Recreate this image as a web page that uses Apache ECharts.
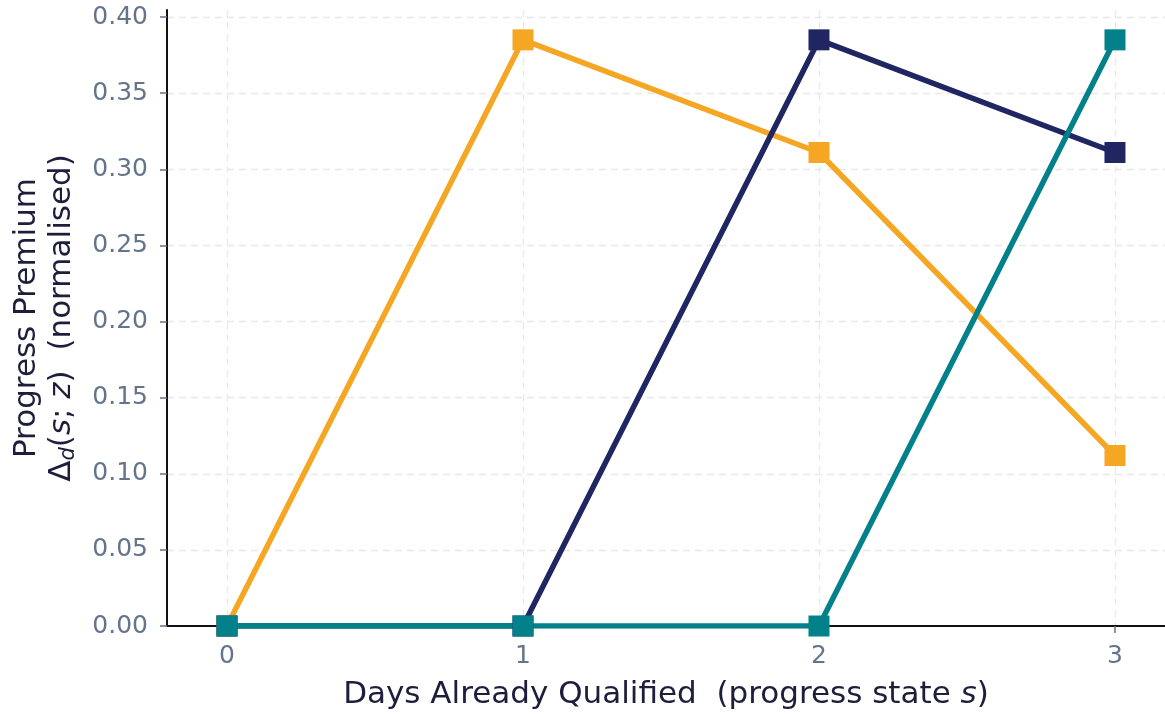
<!DOCTYPE html>
<html>
<head>
<meta charset="utf-8">
<script src="https://cdn.jsdelivr.net/npm/echarts@6/dist/echarts.min.js"></script>
<style>
  html, body { margin: 0; padding: 0; background: #fff; }
  #main { width: 1165px; height: 714px; }
</style>
</head>
<body>
<div id="main"></div>
<script>
// progress state s
var states = [0, 1, 2, 3];
// progress premium per series
var orangeVals = [0, 0.385, 0.311, 0.112];
var navyVals = [0, 0, 0.385, 0.311];
var tealVals = [0, 0, 0, 0.385];

var colors = ['#F5A623', '#202661', '#02818A'];

function pairs(vals) {
    return states.map(function (s, i) { return [s, vals[i]]; });
}

var mychart = echarts.init(document.getElementById('main'));

var gridLine = { show: true, showMinLine: false, showMaxLine: false,
    lineStyle: { color: '#e8e8e8', type: [7, 5], width: 1.3 } };

var titleFont = { color: '#1E1E3C', fontFamily: 'DejaVu Sans', fontSize: 31 };

function mkSeries(name, vals, color) {
    return {
        name: name,
        type: 'line',
        data: pairs(vals),
        symbol: 'rect',
        symbolSize: 21,
        clip: true,
        lineStyle: { color: color, width: 5.5 },
        itemStyle: { color: color },
        emphasis: { disabled: true }
    };
}

mychart.setOption({
    animation: false,
    grid: { left: 167, right: 0, top: 10, bottom: 88, containLabel: false, outerBoundsMode: 'none' },
    xAxis: {
        type: 'value',
        min: -0.2027,
        max: 3.169,
        splitNumber: 3,
        axisLine: { onZero: false, lineStyle: { color: '#111', width: 2 } },
        axisTick: { show: true, length: 7, lineStyle: { color: '#64748B', width: 1.5 } },
        axisLabel: {
            color: '#64748B', fontSize: 25, fontFamily: 'DejaVu Sans', margin: 18,
            showMinLabel: false, showMaxLabel: false,
            formatter: function (v) { return Math.abs(v - Math.round(v)) < 1e-6 ? String(Math.round(v)) : ''; }
        },
        splitLine: gridLine,
        name: '{n|Days Already Qualified  (progress state }{i|s}{n|)}',
        nameLocation: 'middle',
        nameGap: 53,
        nameTextStyle: {
            rich: {
                n: titleFont,
                i: Object.assign({ fontStyle: 'italic' }, titleFont)
            }
        }
    },
    yAxis: {
        type: 'value',
        min: 0,
        max: 0.4046,
        splitNumber: 8,
        axisLine: { show: true, onZero: false, lineStyle: { color: '#111', width: 2 } },
        axisTick: { show: true, length: 7, lineStyle: { color: '#64748B', width: 1.5 } },
        axisLabel: {
            color: '#64748B', fontSize: 25, fontFamily: 'DejaVu Sans', margin: 19,
            showMaxLabel: false,
            formatter: function (v) { return v.toFixed(2); }
        },
        splitLine: gridLine,
        name: '{n|Progress Premium}\n{n|Δ}{sub|d}{n|(}{i|s}{n|; }{i|z}{n|)  (normalised)}',
        nameLocation: 'middle',
        nameRotate: 90,
        nameGap: 88,
        nameTextStyle: {
            lineHeight: 35,
            rich: {
                n: Object.assign({ lineHeight: 35 }, titleFont),
                i: Object.assign({ fontStyle: 'italic', lineHeight: 35 }, titleFont),
                sub: { fontSize: 21, color: '#1E1E3C', fontFamily: 'DejaVu Sans', fontStyle: 'italic', verticalAlign: 'bottom', lineHeight: 28 }
            }
        }
    },
    series: [
        mkSeries('orange', orangeVals, colors[0]),
        mkSeries('navy', navyVals, colors[1]),
        mkSeries('teal', tealVals, colors[2])
    ]
});
</script>
</body>
</html>
